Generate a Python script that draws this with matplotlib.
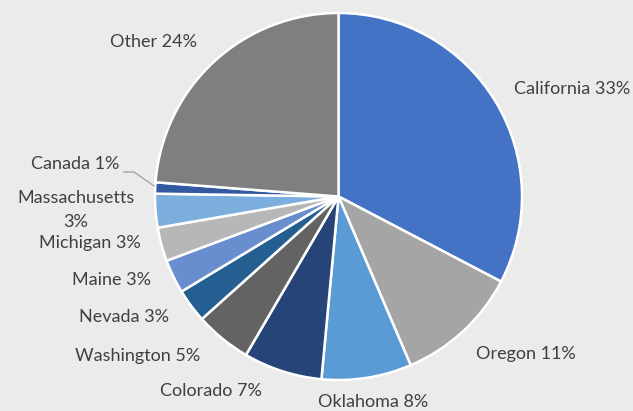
import matplotlib
matplotlib.use("Agg")
import matplotlib.pyplot as plt

labels = ["California", "Oregon", "Oklahoma", "Colorado", "Washington", "Nevada",
          "Maine", "Michigan", "Massachusetts", "Canada", "Other"]
values = [33, 11, 8, 7, 5, 3, 3, 3, 3, 1, 24]
label_texts = ["California 33%", "Oregon 11%", "Oklahoma 8%", "Colorado 7%",
               "Washington 5%", "Nevada 3%", "Maine 3%", "Michigan 3%",
               "Massachusetts\n3%", "Canada 1%", "Other 24%"]
colors = ["#4472C4", "#A5A5A5", "#5B9BD5", "#264478", "#636363", "#255E91",
          "#698ED0", "#B7B7B7", "#7CAFDD", "#335AA1", "#7F7F7F"]

# label positions in pixel coordinates (x, y from top)
label_pos = [(572, 89), (526, 354), (373, 402), (211, 391), (138, 356), (124, 317),
             (111, 280), (90, 243), (76, 210), (75, 164), (153, 42)]

W, H = 633, 411
bg = "#EBEBEB"
fig = plt.figure(figsize=(W / 100, H / 100), dpi=100, facecolor=bg)
ax = fig.add_axes([0, 0, 1, 1])
ax.set_facecolor(bg)

cx, cy, r = 338.5, H - 196.5, 183.5
ax.pie(values, colors=colors, startangle=90, counterclock=False,
       center=(cx, cy), radius=r, frame=True,
       wedgeprops=dict(edgecolor="white", linewidth=1.8))
ax.set_xlim(0, W)
ax.set_ylim(0, H)
ax.set_aspect("equal")
ax.axis("off")

for txt, (px, py) in zip(label_texts, label_pos):
    ax.text(px, H - py, txt, ha="center", va="center", fontsize=13,
            family="Lato", color="#404040", linespacing=1.55)

# leader line for Canada
ax.plot([124, 134, 154], [H - 172, H - 172, H - 186], color="#A6A6A6", lw=1)

fig.savefig("out.png", dpi=100, facecolor=bg)
